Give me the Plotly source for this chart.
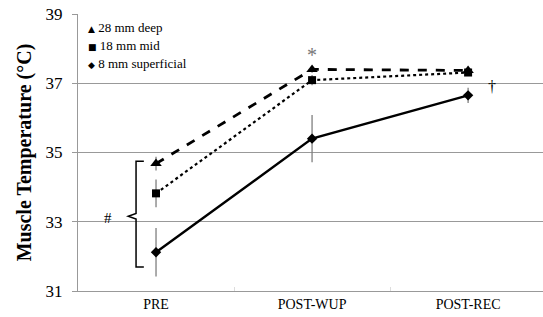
import plotly.graph_objects as go

categories = ["PRE", "POST-WUP", "POST-REC"]
deep_vals = [34.68, 37.40, 37.37]
deep_err = [0.2, 0.1, 0.05]
mid_vals = [33.82, 37.09, 37.31]
mid_err = [0.4, 0.15, 0.08]
sup_vals = [32.12, 35.40, 36.65]
sup_err = [0.7, 0.68, 0.22]
series_names = ["28 mm deep", "18 mm mid", "8 mm superficial"]
legend_glyphs = ["▲", "■", "◆"]
y_ticks = [31, 33, 35, 37, 39]

xs = list(range(len(categories)))
FONT = "Liberation Serif, Times New Roman, serif"
ERR = "#7f7f7f"

fig = go.Figure()

specs = [
    (deep_vals, deep_err, "dash", 2.8, "triangle-up", 10),
    (mid_vals, mid_err, "dot", 2.2, "square", 8),
    (sup_vals, sup_err, "solid", 2.4, "diamond", 8),
]
for name, (vals, err, dash, lw, sym, ms) in zip(series_names, specs):
    fig.add_trace(go.Scatter(
        x=xs, y=vals, mode="lines+markers", name=name, showlegend=False,
        line=dict(color="black", dash=dash, width=lw),
        marker=dict(symbol=sym, size=ms, color="black"),
        error_y=dict(type="data", array=err, color=ERR, thickness=1.3, width=0),
    ))

# legend drawn as text rows
for i, (g, name) in enumerate(zip(legend_glyphs, series_names)):
    fig.add_annotation(
        xref="paper", yref="paper", x=0.018, y=0.95 - i * 0.065,
        xanchor="left", yanchor="middle", showarrow=False,
        text=f"<span style='font-family:DejaVu Sans;font-size:9px'>{g}</span> {name}",
        font=dict(family=FONT, size=13, color="black"),
    )

# bracket for PRE
bx = -0.128
top, mid, bot = 34.75, 33.16, 31.69
fig.add_shape(type="path", xref="x", yref="y",
              path=f"M {bx+0.05},{top} L {bx},{top} L {bx},{mid+0.08} L {bx-0.05},{mid} "
                   f"L {bx},{mid-0.08} L {bx},{bot} L {bx+0.05},{bot}",
              line=dict(color="black", width=1.5))

fig.add_annotation(x=-0.31, y=33.12, text="#", showarrow=False, xref="x", yref="y",
                   font=dict(family=FONT, size=15, color="black"))
fig.add_annotation(x=1, y=37.82, text="*", showarrow=False, xref="x", yref="y",
                   font=dict(family=FONT, size=20, color="#777"))
fig.add_annotation(x=2.15, y=36.9, text="†", showarrow=False, xref="x", yref="y",
                   font=dict(family=FONT, size=16, color="black"))

fig.update_layout(
    width=543, height=317,
    margin=dict(l=78, r=0, t=14, b=26),
    paper_bgcolor="white", plot_bgcolor="white",
    font=dict(family=FONT, color="black"),
    showlegend=False,
    xaxis=dict(range=[-0.5, 2.48], tickvals=xs, ticktext=categories,
               showgrid=False, zeroline=False, showline=True, linecolor="#999",
               linewidth=1, ticks="", tickfont=dict(family=FONT, size=14),
               minor=dict(tickvals=[0.5, 1.5], ticks="inside", ticklen=4, tickcolor="#ddd")),
    yaxis=dict(range=[31, 39], tickvals=y_ticks, showgrid=True, gridcolor="#999",
               gridwidth=1, zeroline=False, showline=True, linecolor="#999",
               ticks="outside", ticklen=5, tickcolor="#999", ticklabelstandoff=6,
               tickfont=dict(family=FONT, size=17),
               title=dict(text="<b>Muscle Temperature (°C)</b>",
                          font=dict(family=FONT, size=20), standoff=8)),
)

fig.write_html("out.html", config={"displayModeBar": False},
               post_script="document.body.style.margin='0';")
